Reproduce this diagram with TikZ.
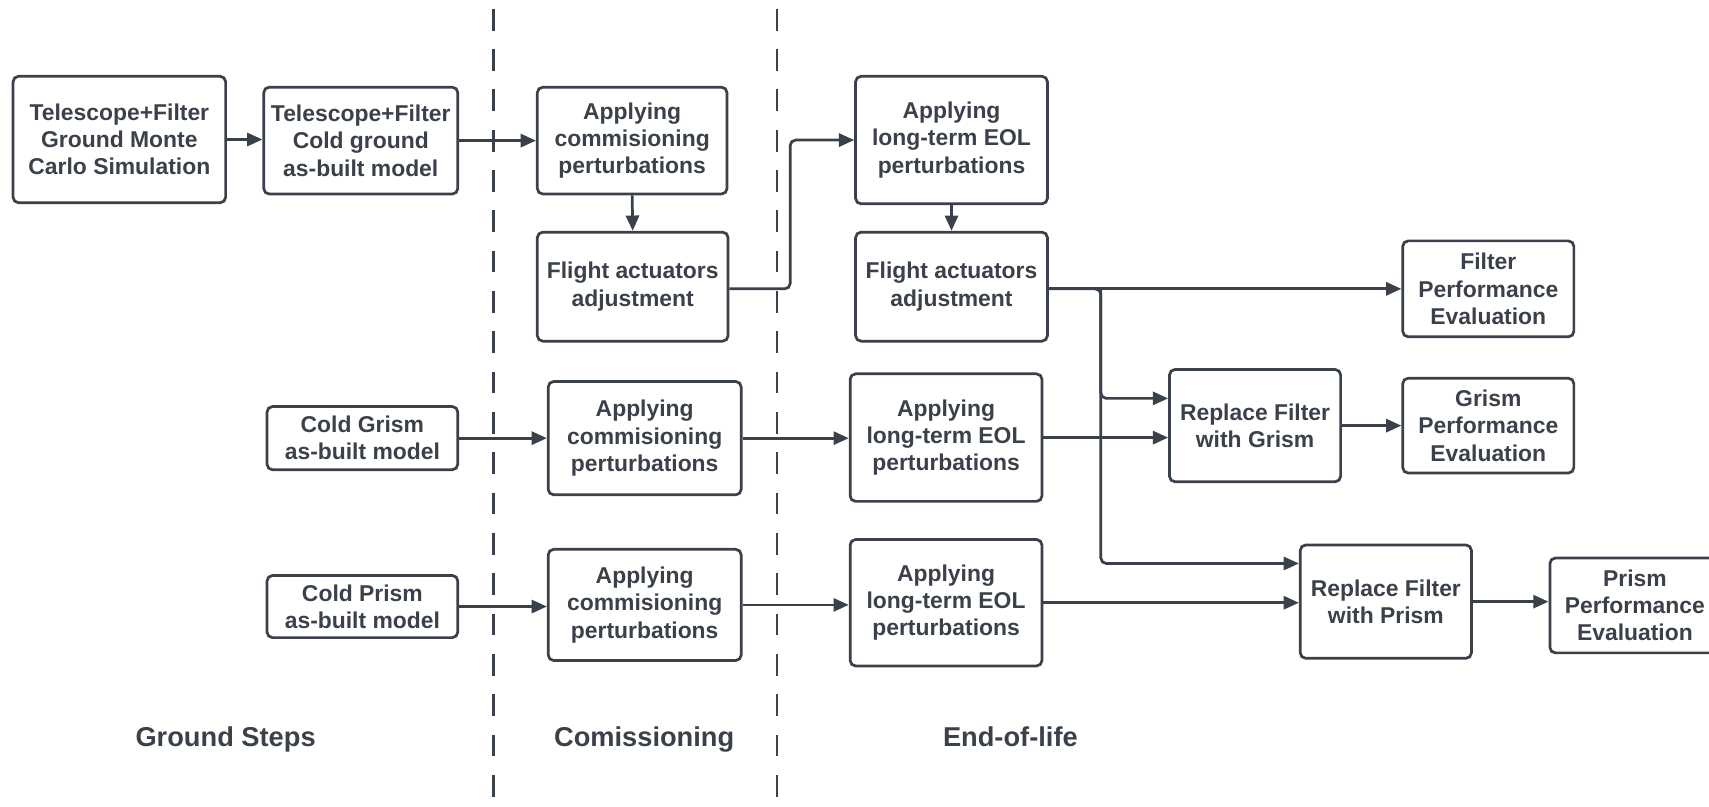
\documentclass[tikz,border=0pt]{standalone}
\usepackage{fontspec}
\setmainfont{Liberation Sans}
\usetikzlibrary{arrows.meta}
\definecolor{ink}{RGB}{59,65,74}
\begin{document}
\begin{tikzpicture}[x=1pt,y=-1pt,
  blk/.style={draw=ink, line width=2.5pt, rounded corners=5pt, align=center, text=ink, inner sep=0pt, font=\fontsize{21}{25}\selectfont\bfseries},
  lnk/.style={draw=ink, line width=2.5pt, -{Triangle[length=14pt,width=12pt]}},
  sep/.style={draw=ink, line width=2.4pt, dash pattern=on 20pt off 17pt},
  phase/.style={text=ink, anchor=base, font=\fontsize{25}{30}\selectfont\bfseries}]
\useasboundingbox (0,0) rectangle (1568,740);
\clip (0,0) rectangle (1568,740);
\draw[sep] (453,8) -- (453,740);
\draw[sep] (713,8) -- (713,740);
\node[blk, minimum width=195pt, minimum height=116pt] (gnd0) at (109.5,128) {Telescope+Filter\\Ground Monte\\Carlo Simulation};
\node[blk, minimum width=178pt, minimum height=98pt] (cold0) at (331,129) {Telescope+Filter\\Cold ground\\as-built model};
\node[blk, minimum width=174pt, minimum height=98pt] (com0) at (580,129) {Applying\\commisioning\\perturbations};
\node[blk, minimum width=175pt, minimum height=100pt] (fa0) at (580.5,263) {Flight actuators\\adjustment};
\node[blk, minimum width=176pt, minimum height=117pt] (eol0) at (873,128.5) {Applying\\long-term EOL\\perturbations};
\node[blk, minimum width=176pt, minimum height=100pt] (fa1) at (873,263) {Flight actuators\\adjustment};
\node[blk, minimum width=157pt, minimum height=88pt] (fperf) at (1365.5,265) {Filter\\Performance\\Evaluation};
\node[blk, minimum width=157pt, minimum height=103pt] (grep) at (1151.5,390.5) {Replace Filter\\with Grism};
\node[blk, minimum width=157pt, minimum height=87pt] (gperf) at (1365.5,390.5) {Grism\\Performance\\Evaluation};
\node[blk, minimum width=175pt, minimum height=58pt] (cold1) at (332.5,402) {Cold Grism\\as-built model};
\node[blk, minimum width=177pt, minimum height=104pt] (com1) at (591.5,402) {Applying\\commisioning\\perturbations};
\node[blk, minimum width=176pt, minimum height=117pt] (eol1) at (868,401.5) {Applying\\long-term EOL\\perturbations};
\node[blk, minimum width=175pt, minimum height=57pt] (cold2) at (332.5,556.5) {Cold Prism\\as-built model};
\node[blk, minimum width=177pt, minimum height=102pt] (com2) at (591.5,555) {Applying\\commisioning\\perturbations};
\node[blk, minimum width=176pt, minimum height=116pt] (eol2) at (868,553) {Applying\\long-term EOL\\perturbations};
\node[blk, minimum width=157pt, minimum height=104pt] (prep) at (1271.5,552) {Replace Filter\\with Prism};
\node[blk, minimum width=156pt, minimum height=87pt] (pperf) at (1500,555.5) {Prism\\Performance\\Evaluation};
\coordinate (up0) at (725,265);
\coordinate (br) at (1010,265);
\draw[lnk] (gnd0.east) -- (gnd0.east -| cold0.west);
\draw[lnk] (cold0.east) -- (cold0.east -| com0.west);
\draw[lnk] (com0.south) -- (fa0.north);
\draw[lnk, rounded corners=5pt] (fa0.east |- up0) -- (up0) |- (eol0.west);
\draw[lnk] (eol0.south) -- (fa1.north);
\draw[lnk] (fa1.east |- br) -- (br -| fperf.west);
\draw[lnk, rounded corners=5pt] (fa1.east |- br) -- (br) |- ([yshift=25pt]grep.west);
\draw[lnk, rounded corners=5pt] (br) |- ([yshift=35pt]prep.west);
\draw[lnk] (cold1.east) -- (cold1.east -| com1.west);
\draw[lnk] (com1.east) -- (com1.east -| eol1.west);
\draw[lnk] (eol1.east) -- (eol1.east -| grep.west);
\draw[lnk] (grep.east) -- (gperf.west);
\draw[lnk] (cold2.east) -- (cold2.east -| com2.west);
\draw[lnk] (com2.east) -- (com2.east -| eol2.west);
\draw[lnk] (eol2.east) -- (eol2.east -| prep.west);
\draw[lnk] (prep.east) -- (prep.east -| pperf.west);
\node[phase] (lgnd) at (207,685) {Ground Steps};
\node[phase] (lcom) at (591,685) {Comissioning};
\node[phase] (leol) at (927,685) {End-of-life};
\end{tikzpicture}
\end{document}
